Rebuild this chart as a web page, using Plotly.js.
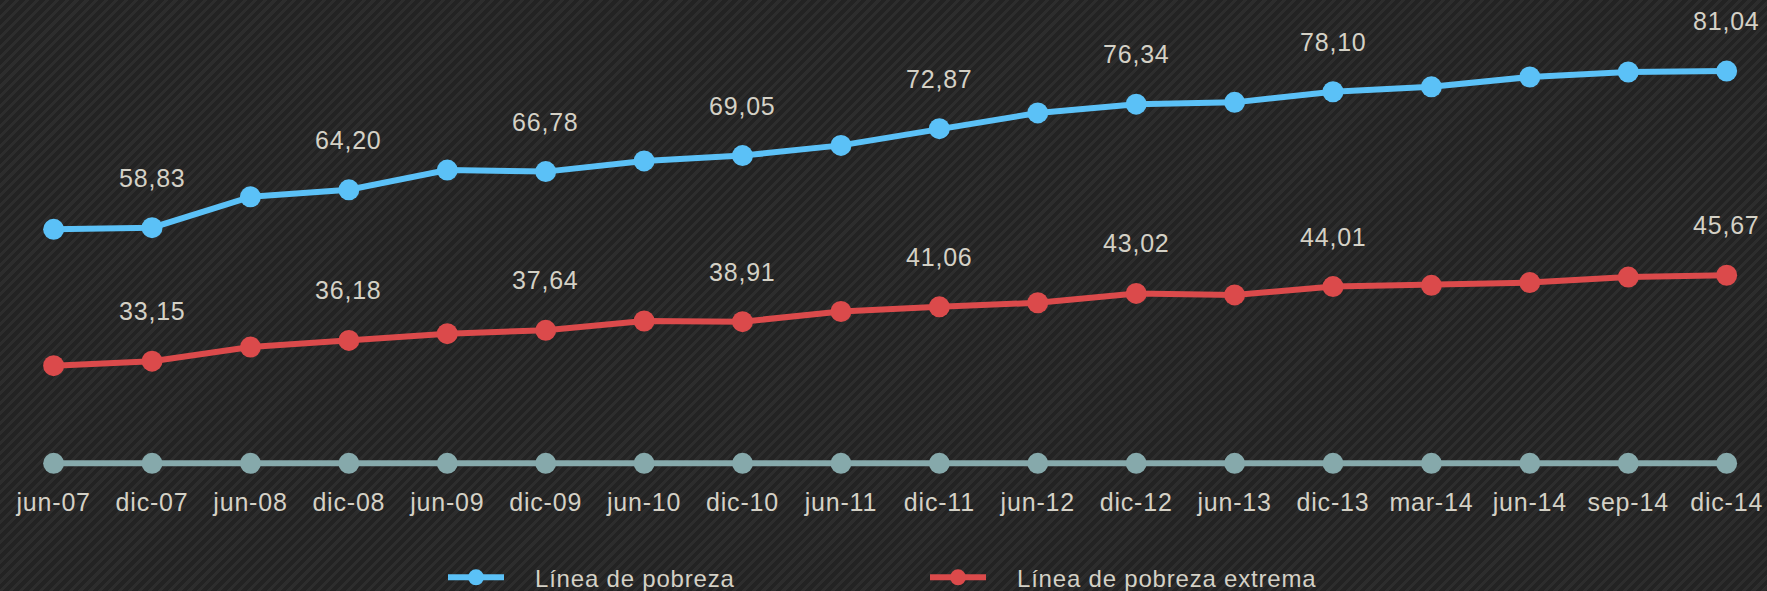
<!DOCTYPE html>
<html>
<head>
<meta charset="utf-8">
<script src="https://cdn.plot.ly/plotly-3.0.1.min.js"></script>
<style>
html, body { margin: 0; padding: 0; width: 1767px; height: 591px; overflow: hidden; }
body {
  background-color: #262626;
  background-image: repeating-linear-gradient(135deg, #232323 0px, #232323 4px, #2d2d2d 4px, #2d2d2d 7px);
}
#chart { width: 1767px; height: 591px; }
#chart svg text { letter-spacing: 0.8px; }
#chart .legendtext { transform: translate(26px, 0px); }
</style>
</head>
<body>
<div id="chart"></div>
<script>
// Categories (periods)
const categories = ["jun-07","dic-07","jun-08","dic-08","jun-09","dic-09","jun-10","dic-10","jun-11","dic-11","jun-12","dic-12","jun-13","dic-13","mar-14","jun-14","sep-14","dic-14"];

// Línea de pobreza
const lineaPobreza = [58.6, 58.83, 63.2, 64.20, 67.0, 66.78, 68.3, 69.05, 70.5, 72.87, 75.1, 76.34, 76.6, 78.10, 78.8, 80.2, 80.9, 81.04];

// Línea de pobreza extrema
const lineaPobrezaExtrema = [32.5, 33.15, 35.2, 36.18, 37.16, 37.64, 39.0, 38.91, 40.38, 41.06, 41.66, 43.02, 42.8, 44.01, 44.2, 44.6, 45.4, 45.67];

// Base line (unlabelled grey series)
const lineaBase = [0, 0, 0, 0, 0, 0, 0, 0, 0, 0, 0, 0, 0, 0, 0, 0, 0, 0];

const seriesNames = ["Línea de pobreza", "Línea de pobreza extrema"];

const BLUE = "#5bc1f7";
const RED = "#db4a4b";
const GREY = "#86a9ab";
const TEXT = "#d4d1c6";

const fmt = v => v.toFixed(2).replace(".", ",");

const traces = [
  {
    type: "scatter", mode: "lines+markers", name: seriesNames[0],
    x: categories, y: lineaPobreza, yaxis: "y",
    line: { color: BLUE, width: 6 },
    marker: { color: BLUE, size: 21 },
    cliponaxis: false, hoverinfo: "x+y"
  },
  {
    type: "scatter", mode: "lines+markers", name: seriesNames[1],
    x: categories, y: lineaPobrezaExtrema, yaxis: "y2",
    line: { color: RED, width: 6 },
    marker: { color: RED, size: 21 },
    cliponaxis: false, hoverinfo: "x+y"
  },
  {
    type: "scatter", mode: "lines+markers", name: "base",
    x: categories, y: lineaBase, yaxis: "y3",
    line: { color: GREY, width: 6 },
    marker: { color: GREY, size: 21 },
    showlegend: false, cliponaxis: false, hoverinfo: "skip"
  }
];

const annotations = [];
categories.forEach((c, i) => {
  if (c.startsWith("dic")) {
    annotations.push({
      x: c, y: lineaPobreza[i], xref: "x", yref: "y",
      text: fmt(lineaPobreza[i]), showarrow: false, yshift: 50,
      font: { size: 25, color: TEXT }
    });
    annotations.push({
      x: c, y: lineaPobrezaExtrema[i], xref: "x", yref: "y2",
      text: fmt(lineaPobrezaExtrema[i]), showarrow: false, yshift: 50,
      font: { size: 25, color: TEXT }
    });
  }
});

const layout = {
  width: 1767, height: 591,
  margin: { l: 0, r: 0, t: 20, b: 106, pad: 0 },
  paper_bgcolor: "rgba(0,0,0,0)",
  plot_bgcolor: "rgba(0,0,0,0)",
  font: { family: '"Liberation Sans", Arial, Helvetica, sans-serif', size: 25, color: TEXT },
  xaxis: {
    type: "category", range: [-0.545, 17.41],
    showgrid: false, zeroline: false, showline: false, ticks: "",
    tickfont: { size: 25, color: TEXT }, fixedrange: true, automargin: false
  },
  yaxis: { range: [22.34, 88.28], visible: false, fixedrange: true },
  yaxis2: { range: [15.117, 82.84], overlaying: "y", visible: false, fixedrange: true },
  yaxis3: { range: [-2.17, 44.33], overlaying: "y", visible: false, fixedrange: true },
  showlegend: true,
  legend: {
    orientation: "h", xref: "container", yref: "container",
    x: 443 / 1767, xanchor: "left", y: 1 - 577.7 / 591, yanchor: "middle",
    font: { size: 24, color: TEXT }, itemwidth: 56,
    entrywidth: 411, entrywidthmode: "pixels",
    bgcolor: "rgba(0,0,0,0)", traceorder: "normal"
  },
  annotations: annotations
};

Plotly.newPlot("chart", traces, layout, { displayModeBar: false, staticPlot: true });
</script>
</body>
</html>
